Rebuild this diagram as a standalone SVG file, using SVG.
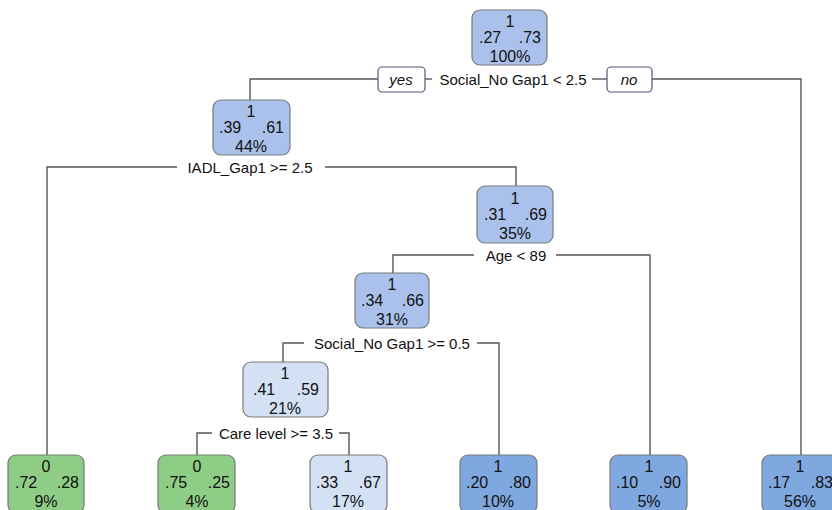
<svg xmlns="http://www.w3.org/2000/svg" width="832" height="510" viewBox="0 0 832 510">
<style>
text{font-family:"Liberation Sans",Arial,sans-serif;font-size:15px;fill:#111}
g.node text{font-size:16px}
.box{stroke:#7a7a7a;stroke-width:1.2}
.mid{fill:#aac2eb}
.lite{fill:#d4e1f4}
.dark{fill:#80a8e0}
.grn{fill:#8ecd85}
.c{text-anchor:middle}
.e{text-anchor:end}
.lab{fill:#fff;stroke:#4a5a78;stroke-width:1.2}
.conn{fill:none;stroke:#555;stroke-width:1.4}
</style>
<rect width="832" height="510" fill="#fff"/>
<g id="connectors">
<polyline class="conn" points="378,79 250,79 250,100"/>
<line class="conn" x1="425" y1="79" x2="432" y2="79"/>
<line class="conn" x1="592" y1="79" x2="607" y2="79"/>
<polyline class="conn" points="652,79 801,79 801,455"/>
<polyline class="conn" points="177,167 47,167 47,455"/>
<polyline class="conn" points="325,167 516,167 516,186"/>
<polyline class="conn" points="474,255 393,255 393,273"/>
<polyline class="conn" points="556,255 650,255 650,455"/>
<polyline class="conn" points="304,343 283,343 283,362"/>
<polyline class="conn" points="477,343 499,343 499,455"/>
<polyline class="conn" points="212,433 197,433 197,455"/>
<polyline class="conn" points="339,433 349,433 349,455"/>
</g>
<g id="labels">
<rect class="lab" x="378" y="67" width="47" height="25" rx="4"/>
<text class="c" x="401" y="85" font-style="italic">yes</text>
<text class="c" x="513" y="85">Social_No Gap1 &lt; 2.5</text>
<rect class="lab" x="607" y="67" width="45" height="25" rx="4"/>
<text class="c" x="629" y="85" font-style="italic">no</text>
<text class="c" x="250" y="173">IADL_Gap1 &gt;= 2.5</text>
<text class="c" x="516" y="261">Age &lt; 89</text>
<text class="c" x="392" y="349">Social_No Gap1 &gt;= 0.5</text>
<text class="c" x="276" y="439">Care level &gt;= 3.5</text>
</g>
<g id="n1" class="node">
<rect class="box mid" x="472" y="10" width="75" height="55" rx="8"/>
<text class="c" x="510" y="27">1</text>
<text x="479" y="43">.27</text><text class="e" x="541" y="43">.73</text>
<text class="c" x="510" y="62">100%</text>
</g>
<g id="n2" class="node">
<rect class="box mid" x="213" y="100" width="77" height="55" rx="8"/>
<text class="c" x="251" y="117">1</text>
<text x="219" y="133">.39</text><text class="e" x="284" y="133">.61</text>
<text class="c" x="251" y="152">44%</text>
</g>
<g id="n3" class="node">
<rect class="box mid" x="477" y="186" width="76" height="57" rx="8"/>
<text class="c" x="515" y="204">1</text>
<text x="484" y="220">.31</text><text class="e" x="547" y="220">.69</text>
<text class="c" x="515" y="239">35%</text>
</g>
<g id="n4" class="node">
<rect class="box mid" x="355" y="273" width="74" height="55" rx="8"/>
<text class="c" x="392" y="290">1</text>
<text x="361" y="306">.34</text><text class="e" x="424" y="306">.66</text>
<text class="c" x="392" y="325">31%</text>
</g>
<g id="n5" class="node">
<rect class="box lite" x="243" y="362" width="85" height="55" rx="8"/>
<text class="c" x="285" y="379">1</text>
<text x="253" y="395">.41</text><text class="e" x="319" y="395">.59</text>
<text class="c" x="285" y="414">21%</text>
</g>
<g id="leaf1" class="node">
<rect class="box grn" x="8" y="455" width="76" height="58" rx="8"/>
<text class="c" x="46" y="472">0</text>
<text x="15" y="488">.72</text><text class="e" x="79" y="488">.28</text>
<text class="c" x="46" y="507">9%</text>
</g>
<g id="leaf2" class="node">
<rect class="box grn" x="158" y="455" width="77" height="58" rx="8"/>
<text class="c" x="197" y="472">0</text>
<text x="165" y="488">.75</text><text class="e" x="230" y="488">.25</text>
<text class="c" x="197" y="507">4%</text>
</g>
<g id="leaf3" class="node">
<rect class="box lite" x="310" y="455" width="77" height="58" rx="8"/>
<text class="c" x="348" y="472">1</text>
<text x="316" y="488">.33</text><text class="e" x="381" y="488">.67</text>
<text class="c" x="348" y="507">17%</text>
</g>
<g id="leaf4" class="node">
<rect class="box dark" x="460" y="455" width="77" height="58" rx="8"/>
<text class="c" x="498" y="472">1</text>
<text x="466" y="488">.20</text><text class="e" x="531" y="488">.80</text>
<text class="c" x="498" y="507">10%</text>
</g>
<g id="leaf5" class="node">
<rect class="box dark" x="610" y="455" width="77" height="58" rx="8"/>
<text class="c" x="649" y="472">1</text>
<text x="616" y="488">.10</text><text class="e" x="681" y="488">.90</text>
<text class="c" x="649" y="507">5%</text>
</g>
<g id="leaf6" class="node">
<rect class="box dark" x="762" y="455" width="77" height="58" rx="8"/>
<text class="c" x="800" y="472">1</text>
<text x="768" y="488">.17</text><text class="e" x="833" y="488">.83</text>
<text class="c" x="800" y="507">56%</text>
</g>
</svg>
